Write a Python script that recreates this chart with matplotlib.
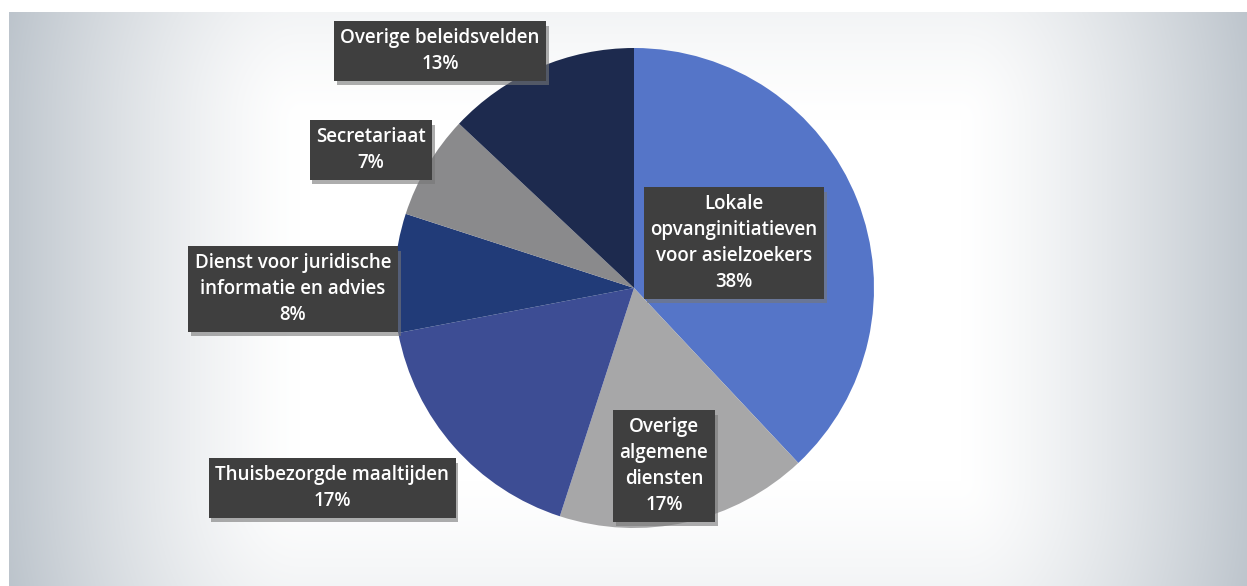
import numpy as np
import matplotlib
matplotlib.use("Agg")
import matplotlib.pyplot as plt
import matplotlib.patheffects as pe

# data
categories = ["Lokale\nopvanginitiatieven\nvoor asielzoekers",
              "Overige\nalgemene\ndiensten",
              "Thuisbezorgde maaltijden",
              "Dienst voor juridische\ninformatie en advies",
              "Secretariaat",
              "Overige beleidsvelden"]
shares = [38, 17, 17, 8, 7, 13]
colors = ["#5575c8", "#a7a7a8", "#3d4d94", "#213b78", "#8a8a8c", "#1d2a4e"]

# label centres in pixel coords (x, y from top)
label_pos = [(734, 243), (664, 466), (332, 488), (293, 289), (371, 150), (440, 51)]

W, H = 1247, 586
fig = plt.figure(figsize=(W / 100, H / 100), dpi=100)

# background gradient
bg = fig.add_axes([0, 0, 1, 1])
xx, yy = np.meshgrid(np.arange(W), np.arange(H))
dx = np.clip((np.abs(xx - 630) - 330) / 300, 0, 1)
dy = np.clip((np.abs(yy - 300) - 180) / 140, 0, 1) * 0.35
d = np.clip(np.sqrt(dx**2 + dy**2), 0, 1) ** 1.3
top = np.array([1.0, 1.0, 1.0])
edge = np.array([0.74, 0.77, 0.80])
img = top[None, None, :] * (1 - d[..., None]) + edge[None, None, :] * d[..., None]
img[:12, :, :] = 1.0
img[:, :9, :] = 1.0
bg.imshow(img, extent=(0, W, 0, H), origin="upper", aspect="auto")
bg.set_axis_off()

ax = fig.add_axes([0, 0, 1, 1])
ax.set_facecolor("none")
ax.pie(shares, colors=colors, startangle=90, counterclock=False,
       center=(634, H - 288), radius=240,
       wedgeprops=dict(linewidth=0))
ax.set_xlim(0, W)
ax.set_ylim(0, H)
ax.set_aspect("auto")
ax.set_axis_off()

for lab, pct, (px, py) in zip(categories, shares, label_pos):
    t = ax.text(px, H - py, lab + "\n" + str(pct) + "%",
                ha="center", va="center", color="white",
                fontsize=13.5, fontweight="semibold",
                family=["Open Sans", "DejaVu Sans"],
                linespacing=1.4,
                bbox=dict(boxstyle="square,pad=0.35", facecolor="#3f3f3f",
                          edgecolor="none"))
    t.get_bbox_patch().set_path_effects(
        [pe.SimplePatchShadow(offset=(2, -3), shadow_rgbFace="#777777", alpha=0.6),
         pe.Normal()])

fig.savefig("out.png", dpi=100)
